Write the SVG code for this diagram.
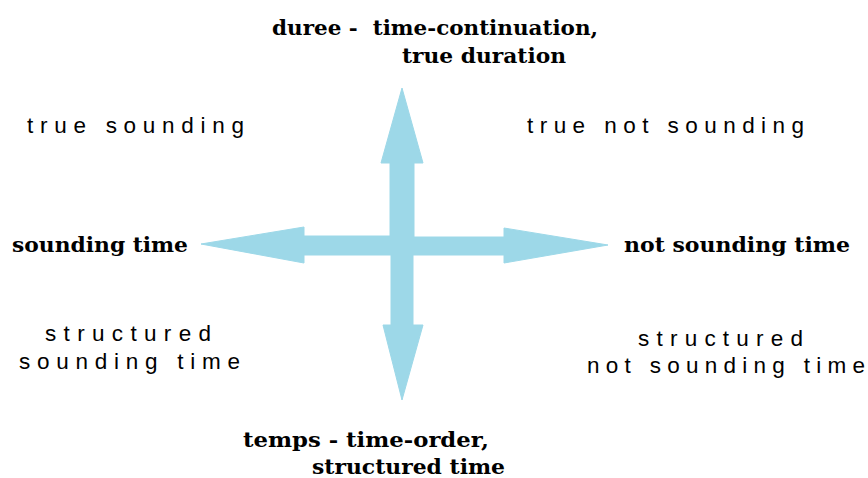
<svg xmlns="http://www.w3.org/2000/svg" width="868" height="478" viewBox="0 0 868 478">
<style>
.b{font-family:"DejaVu Serif","Liberation Serif",serif;font-weight:bold;font-size:20px;fill:#000}
.s{font-family:"Liberation Sans",Arial,sans-serif;font-size:22.5px;fill:#000}
.arr{fill:#9dd8e8;stroke:#9dd8e8;stroke-width:1;stroke-linejoin:round}
</style>
<rect width="868" height="478" fill="#fff"/>
<g id="connectors">
<polygon class="arr" points="402,88 423,163 414,163 414,237 504,237 504,228 608,245 504,263 504,255 413,255 413,325 423,325 402,400 383,325 391,325 391,255 304,255 304,263 201,244 304,227 304,236 390,236 390,163 381,163"/>
</g>
<g id="duree">
<text class="b" x="272" y="35" textLength="326" lengthAdjust="spacingAndGlyphs" xml:space="preserve">duree -  time-continuation,</text>
<text class="b" x="402" y="63" textLength="164" lengthAdjust="spacingAndGlyphs">true duration</text>
</g>
<g id="temps">
<text class="b" x="243" y="447" textLength="246" lengthAdjust="spacingAndGlyphs">temps - time-order,</text>
<text class="b" x="312" y="474" textLength="193" lengthAdjust="spacingAndGlyphs">structured time</text>
</g>
<g id="sounding-time">
<text class="b" x="12" y="252" textLength="176" lengthAdjust="spacingAndGlyphs">sounding time</text>
</g>
<g id="not-sounding-time">
<text class="b" x="624" y="252" textLength="226" lengthAdjust="spacingAndGlyphs">not sounding time</text>
</g>
<g id="true-sounding">
<text class="s" x="27" y="133" textLength="217" lengthAdjust="spacing">true sounding</text>
</g>
<g id="true-not-sounding">
<text class="s" x="527" y="133" textLength="277" lengthAdjust="spacing">true not sounding</text>
</g>
<g id="structured-sounding-time">
<text class="s" x="45" y="341" textLength="166" lengthAdjust="spacing">structured</text>
<text class="s" x="19" y="369" textLength="221" lengthAdjust="spacing">sounding time</text>
</g>
<g id="structured-not-sounding-time">
<text class="s" x="638" y="346" textLength="165" lengthAdjust="spacing">structured</text>
<text class="s" x="587" y="373" textLength="278" lengthAdjust="spacing">not sounding time</text>
</g>
</svg>
